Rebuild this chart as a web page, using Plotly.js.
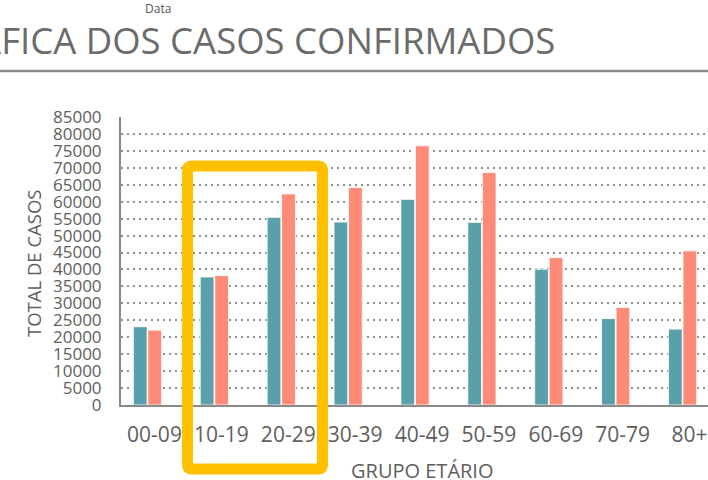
<!DOCTYPE html>
<html>
<head>
<meta charset="utf-8">
<script src="https://cdn.plot.ly/plotly-3.0.1.min.js"></script>
<style>html,body{margin:0;padding:0;background:#fff;}#chart{width:708px;height:480px;}</style>
</head>
<body>
<div id="chart"></div>
<script>
const categories = ["00-09","10-19","20-29","30-39","40-49","50-59","60-69","70-79","80+"];
const seriesA = [23100, 37800, 55400, 54000, 60700, 53900, 40100, 25500, 22400];
const seriesB = [22100, 38200, 62300, 64200, 76500, 68600, 43500, 28800, 45500];
const yTicks = [0,5000,10000,15000,20000,25000,30000,35000,40000,45000,50000,55000,60000,65000,70000,75000,80000,85000];

const W = 708, H = 480;
const M = {l: 121, r: 0, t: 117, b: 75};
const PW = W - M.l - M.r, PH = H - M.t - M.b;
const px = x => (x - M.l) / PW;
const py = y => (H - M.b - y) / PH;

const font = '"Open Sans", "Noto Sans", sans-serif';
const grey = '#605E5C';

const traces = [
  {type: 'bar', x: categories, y: seriesA, name: 'A',
   marker: {color: '#5AA0AB', line: {color: 'rgba(255,255,255,0.85)', width: 1}}},
  {type: 'bar', x: categories, y: seriesB, name: 'B',
   marker: {color: '#FE8A77', line: {color: 'rgba(255,255,255,0.85)', width: 1}}}
];

// rounded highlight box (pixel geometry converted to paper units)
function roundedBox(x0, y0, x1, y1, r) {
  const P = (x, y) => px(x) + ',' + py(y);
  return 'M' + P(x0 + r, y0) + ' L' + P(x1 - r, y0) + ' Q' + P(x1, y0) + ' ' + P(x1, y0 + r) +
    ' L' + P(x1, y1 - r) + ' Q' + P(x1, y1) + ' ' + P(x1 - r, y1) +
    ' L' + P(x0 + r, y1) + ' Q' + P(x0, y1) + ' ' + P(x0, y1 - r) +
    ' L' + P(x0, y0 + r) + ' Q' + P(x0, y0) + ' ' + P(x0 + r, y0) + ' Z';
}

const layout = {
  width: W, height: H,
  margin: M,
  paper_bgcolor: '#fff', plot_bgcolor: '#fff',
  showlegend: false,
  barmode: 'group', bargap: 0.566, bargroupgap: 0.05,
  font: {family: font, color: grey},
  xaxis: {
    type: 'category', range: [-0.396, 8.38], fixedrange: true,
    showgrid: false, showline: true, linecolor: '#8a8a8a', linewidth: 2,
    ticks: '', tickfont: {size: 21, color: grey}, ticklabelstandoff: 10, ticklabelshift: 7
  },
  yaxis: {
    range: [0, 85000], tickvals: yTicks, ticktext: yTicks.map(String),
    showgrid: true, gridcolor: '#8f8f8f', gridwidth: 2, griddash: '2px,4px',
    zeroline: false, showline: true, linecolor: '#8a8a8a', linewidth: 2,
    ticks: '', tickfont: {size: 17, color: grey}, ticklabelstandoff: 14
  },
  annotations: [
    {xref: 'paper', yref: 'paper', x: px(557), y: py(40), xanchor: 'right', yanchor: 'middle',
     text: 'GRÁFICA DOS CASOS CONFIRMADOS', showarrow: false,
     font: {size: 36.5, color: '#6b6b6b', family: font}},
    {xref: 'paper', yref: 'paper', x: px(143), y: py(19), xanchor: 'left', yanchor: 'bottom',
     text: 'Data', showarrow: false, font: {size: 12, color: '#555', family: font}},
    {xref: 'paper', yref: 'paper', x: px(422), y: py(470), xanchor: 'center', yanchor: 'middle',
     text: 'GRUPO ETÁRIO', showarrow: false, font: {size: 20, color: grey, family: font}},
    {xref: 'paper', yref: 'paper', x: px(33), y: py(264), xanchor: 'center', yanchor: 'middle',
     text: 'TOTAL DE CASOS', textangle: -90, showarrow: false, font: {size: 18.5, color: grey, family: font}}
  ],
  shapes: [
    {type: 'line', xref: 'paper', yref: 'paper', x0: px(0), x1: px(708), y0: py(71), y1: py(71),
     line: {color: '#8a8a8a', width: 2.5}},
    {type: 'path', xref: 'paper', yref: 'paper', path: roundedBox(187.5, 166, 322.5, 469, 4),
     line: {color: '#FFC000', width: 11}, layer: 'above'}
  ]
};

Plotly.newPlot('chart', traces, layout, {displayModeBar: false, staticPlot: true});
</script>
</body>
</html>
